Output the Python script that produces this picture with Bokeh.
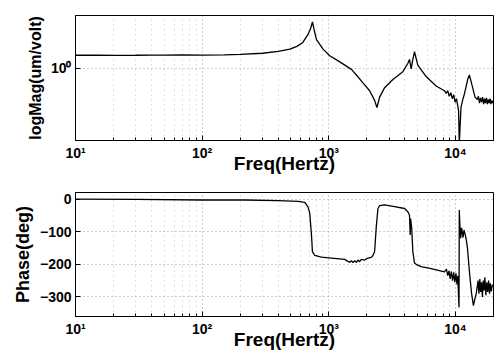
from bokeh.plotting import figure
from bokeh.layouts import column
from bokeh.models import FixedTicker, Range1d
from bokeh.embed import file_html
from bokeh.resources import INLINE

# ---------------- data ----------------
freq_mag = [10, 15, 20, 30, 40, 50, 70, 100, 150, 200,
            300, 400, 493, 560, 624, 684, 720, 744, 770, 800,
            850, 902, 1018, 1222, 1510, 1653, 1862, 2103, 2303, 2401,
            2522, 2761, 3210, 3847, 4210, 4343, 4477, 4600, 4754, 5048,
            5877, 7043, 8190, 8450, 8700, 8950, 9200, 9450, 9700, 9950,
            10200, 10450, 10600, 10740, 10900, 11080, 11400, 11770, 12150, 12500,
            12890, 13300, 13690, 14300, 14900, 15200, 15500, 15800, 16100, 16400,
            16700, 17000, 17300, 17600, 17900, 18200, 18500, 18800, 19100, 19400,
            19700, 20000]
mag = [1.52, 1.52, 1.51, 1.52, 1.53, 1.53, 1.54, 1.53, 1.54, 1.56,
       1.62, 1.72, 1.85, 2.02, 2.29, 2.93, 3.6, 4.4, 3.3, 2.51,
       2.15, 1.85, 1.5, 1.23, 0.97, 0.81, 0.63, 0.49, 0.36, 0.287,
       0.40, 0.54, 0.70, 0.90, 1.17, 1.33, 0.98, 1.3, 1.70, 1.11,
       0.77, 0.57, 0.49, 0.45, 0.49, 0.41, 0.46, 0.38, 0.43, 0.34,
       0.38, 0.30, 0.26, 0.09, 0.16, 0.29, 0.36, 0.44, 0.56, 0.70,
       0.81, 0.66, 0.54, 0.40, 0.37, 0.41, 0.33, 0.39, 0.34, 0.40,
       0.32, 0.38, 0.33, 0.39, 0.32, 0.37, 0.33, 0.38, 0.32, 0.36,
       0.33, 0.35]

freq_phase = [10, 30, 100, 218, 399, 573, 647, 687, 708, 720,
              731, 743, 776, 875, 1050, 1336, 1419, 1463, 1509, 1553,
              1602, 1652, 1702, 1754, 1808, 1920, 2039, 2166, 2233, 2303,
              2375, 2446, 2522, 2761, 3311, 3968, 4210, 4343, 4396, 4430,
              4520, 4613, 4754, 4900, 5370, 6440, 8190, 8500, 8700, 8900,
              9100, 9300, 9500, 9700, 9900, 10100, 10300, 10450, 10600, 10680,
              10740, 10850, 11020, 11200, 11500, 11700, 12020, 12250, 12460, 12890,
              13410, 13880, 14220, 14600, 14870, 15100, 15350, 15600, 15850, 16100,
              16350, 16600, 16850, 17100, 17400, 17700, 18000, 18300, 18600, 18900,
              19200, 19600]
phase = [0, -1, -3, -3, -5, -7, -10, -25, -44, -80,
         -112, -161, -173, -178, -181, -185, -191, -194, -189, -195,
         -189, -194, -187, -192, -185, -187, -181, -179, -173, -161,
         -83, -29, -20, -18, -23, -29, -39, -50, -110, -60,
         -90, -161, -196, -200, -207, -213, -223, -215, -235, -220,
         -245, -222, -250, -225, -255, -228, -262, -235, -300, -332,
         -34, -80, -120, -88, -118, -95, -113, -130, -151, -220,
         -288, -327, -308, -290, -269, -250, -290, -245, -285, -255,
         -300, -250, -280, -240, -295, -255, -285, -250, -290, -258,
         -283, -262]

x_major = [10, 100, 1000, 10000]
x_labels = {10: "10¹", 100: "10²", 1000: "10³", 10000: "10⁴"}
x_minor = [m * 10 ** k for k in range(1, 5) for m in range(2, 10)]
mag_ticks = [1]
mag_labels = {1: "10⁰"}
phase_ticks = [-300, -200, -100, 0]

x_title = "Freq(Hertz)"
mag_title = "logMag(um/volt)"
phase_title = "Phase(deg)"

FONT = "Liberation Sans"


def style(p, ylabel_size):
    p.outline_line_color = "black"
    p.outline_line_width = 1
    p.background_fill_color = "white"
    p.border_fill_color = "white"
    for ax in (p.xaxis[0], p.yaxis[0]):
        ax.axis_line_color = "black"
        ax.major_tick_line_color = "black"
        ax.minor_tick_line_color = "black"
        ax.major_tick_in = 5
        ax.major_tick_out = 0
        ax.minor_tick_in = 3
        ax.minor_tick_out = 0
        ax.major_label_text_font = FONT
        ax.major_label_text_font_style = "bold"
        ax.major_label_text_font_size = "14px"
        ax.major_label_text_color = "black"
        ax.axis_label_text_font = FONT
        ax.axis_label_text_font_style = "bold"
        ax.axis_label_text_color = "black"
    xa = p.xaxis[0]
    xa.ticker = FixedTicker(ticks=x_major, minor_ticks=x_minor)
    xa.major_label_overrides = x_labels
    xa.major_label_standoff = 4
    xa.axis_label = x_title
    xa.axis_label_text_font_size = "19px"
    xa.axis_label_standoff = -11
    ya = p.yaxis[0]
    ya.major_label_standoff = 4
    ya.axis_label_text_font_size = ylabel_size
    ya.axis_label_standoff = 4
    ya.minor_tick_line_color = None
    for g in (p.xgrid[0], p.ygrid[0]):
        g.grid_line_color = "#8a8a8a"
        g.grid_line_dash = "1 3"
        g.grid_line_width = 1
        g.grid_line_alpha = 0.8
    p.xgrid[0].minor_grid_line_color = "#9a9a9a"
    p.xgrid[0].minor_grid_line_dash = "1 4"
    p.xgrid[0].minor_grid_line_alpha = 0.6


p1 = figure(width=494, height=176, x_axis_type="log", y_axis_type="log",
            x_range=Range1d(10, 20000), y_range=Range1d(0.1, 5.41),
            output_backend="svg", toolbar_location=None,
            min_border_left=75, min_border_right=1, min_border_top=15,
            min_border_bottom=31)
p1.line(freq_mag, mag, line_color="black", line_width=1.3)
style(p1, "16px")
p1.yaxis[0].ticker = FixedTicker(ticks=mag_ticks, minor_ticks=[])
p1.yaxis[0].major_label_overrides = mag_labels
p1.yaxis[0].axis_label = mag_title

p2 = figure(width=494, height=176, x_axis_type="log",
            x_range=Range1d(10, 20000), y_range=Range1d(-360, 20),
            output_backend="svg", toolbar_location=None,
            min_border_left=75, min_border_right=1, min_border_top=16,
            min_border_bottom=31)
p2.line(freq_phase, phase, line_color="black", line_width=1.3)
style(p2, "18px")
p2.yaxis[0].ticker = FixedTicker(ticks=phase_ticks, minor_ticks=[])
p2.yaxis[0].axis_label = phase_title

layout = column(p1, p2, spacing=0)

open("out.html", "w").write(file_html(layout, INLINE))
